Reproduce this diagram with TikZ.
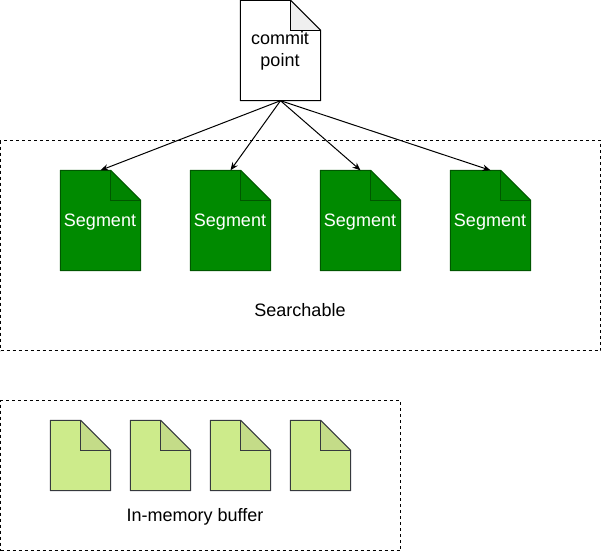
\documentclass[tikz,border=0pt]{standalone}
\usepackage{fontspec}
\setmainfont{Liberation Sans}
\usetikzlibrary{backgrounds,arrows.meta}
\definecolor{segfill}{HTML}{008A00}
\definecolor{segline}{HTML}{005700}
\definecolor{segfold}{HTML}{008400}
\definecolor{buffill}{HTML}{CDEB8B}
\definecolor{bufline}{HTML}{36393D}
\definecolor{buffold}{HTML}{C4DC88}
\definecolor{commitfold}{HTML}{EFEFEF}
\tikzset{
  lbl/.style={font=\fontsize{18}{22}\selectfont,inner sep=0pt,align=center},
  regionbox/.style={draw=black,line width=1pt,dash pattern=on 3pt off 3pt,inner sep=0pt},
  commitdoc/.style={lbl,minimum width=80pt,minimum height=100pt},
  segdoc/.style={lbl,text=white,minimum width=80pt,minimum height=100pt},
  bufdoc/.style={lbl,minimum width=60pt,minimum height=70pt},
  link/.style={-{Stealth[length=8pt,width=6.5pt]},line width=1pt}
}
% outline and fold of a document, drawn behind the node #1
\newcommand{\docfold}[4]{
  \begin{scope}[on background layer]
    \fill[#4] ([xshift=-30pt]#1.north east) -- ([yshift=-30pt]#1.north east)
      -- ([xshift=-30pt,yshift=-30pt]#1.north east) -- cycle;
    \fill[#3] (#1.north west) -- ([xshift=-30pt]#1.north east) -- ([xshift=-30pt,yshift=-30pt]#1.north east)
      -- ([yshift=-30pt]#1.north east) -- (#1.south east) -- (#1.south west) -- cycle;
    \draw[line width=1pt,draw=#2,line join=round] (#1.north west) -- ([xshift=-30pt]#1.north east)
      -- ([yshift=-30pt]#1.north east) -- (#1.south east) -- (#1.south west) -- cycle;
    \draw[line width=1pt,draw=#2] ([xshift=-30pt]#1.north east)
      -- ([xshift=-30pt,yshift=-30pt]#1.north east) -- ([yshift=-30pt]#1.north east);
  \end{scope}
}
\begin{document}
\begin{tikzpicture}[x=1pt,y=-1pt]
    \useasboundingbox (0,0) rectangle (601,551);
    % dashed regions
    \node[regionbox,minimum width=600pt,minimum height=210pt] (searchbox) at (300.5,245.5) {};
    \node[regionbox,minimum width=400pt,minimum height=150pt] (bufferbox) at (200.5,475.5) {};
    \node[lbl] (searchlabel) at (300,310) {Searchable};
    \node[lbl] (bufferlabel) at (195,516.5) {In-memory buffer};
    % commit point
    \node[commitdoc] (commit) at (280.5,50.5) {};
    \node[lbl] (committext) at (280,50.5) {commit\\point};
    \docfold{commit}{black}{white}{commitfold}
    % segments
    \foreach \number/\posx in {1/100.5,2/230.5,3/360.5,4/490.5}{
        \node[segdoc] (seg-\number) at (\posx,220.5) {};
        \node[lbl,text=white] (segtext-\number) at (\posx-0.5,222) {Segment};
        \docfold{seg-\number}{segline}{segfill}{segfold}
        \draw[link] (commit.south) -- (seg-\number.north);
      }
    % buffer documents
    \foreach \number/\posx in {1/80.5,2/160.5,3/240.5,4/320.5}{
        \node[bufdoc] (buf-\number) at (\posx,455.5) {};
        \docfold{buf-\number}{bufline}{buffill}{buffold}
      }
\end{tikzpicture}
\end{document}
